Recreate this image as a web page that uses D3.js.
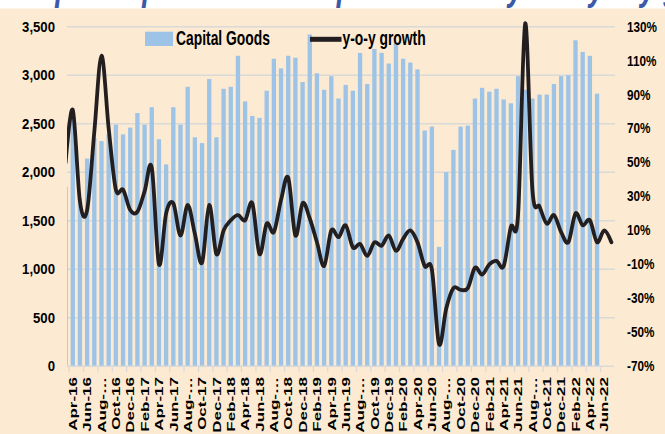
<!DOCTYPE html>
<html>
<head>
<meta charset="utf-8">
<script src="https://cdn.jsdelivr.net/npm/d3@7"></script>
<style>
  html, body { margin: 0; padding: 0; background: #fff; }
  svg { display: block; }
  text { font-family: "Liberation Sans", Arial, sans-serif; font-weight: bold; }
</style>
</head>
<body>
<script>
const width = 665;
const height = 434;

// months shown on the category axis (first and last are only partly in view)
const months = [
  "Mar-16","Apr-16","May-16","Jun-16","Jul-16","Aug-16","Sep-16","Oct-16","Nov-16","Dec-16",
  "Jan-17","Feb-17","Mar-17","Apr-17","May-17","Jun-17","Jul-17","Aug-17","Sep-17","Oct-17","Nov-17","Dec-17",
  "Jan-18","Feb-18","Mar-18","Apr-18","May-18","Jun-18","Jul-18","Aug-18","Sep-18","Oct-18","Nov-18","Dec-18",
  "Jan-19","Feb-19","Mar-19","Apr-19","May-19","Jun-19","Jul-19","Aug-19","Sep-19","Oct-19","Nov-19","Dec-19",
  "Jan-20","Feb-20","Mar-20","Apr-20","May-20","Jun-20","Jul-20","Aug-20","Sep-20","Oct-20","Nov-20","Dec-20",
  "Jan-21","Feb-21","Mar-21","Apr-21","May-21","Jun-21","Jul-21","Aug-21","Sep-21","Oct-21","Nov-21","Dec-21",
  "Jan-22","Feb-22","Mar-22","Apr-22","May-22","Jun-22","Jul-22"
];

// Capital Goods (left axis)
const capitalGoods = [
  1850, 2600, 1730, 2140, 2350, 2320, 2390, 2490, 2390, 2460,
  2610, 2490, 2670, 2340, 2080, 2670, 2490, 2880, 2360, 2300, 2960, 2360,
  2860, 2880, 3200, 2730, 2580, 2560, 2840, 3170, 3070, 3200, 3180, 2930,
  3420, 3020, 2850, 2990, 2760, 2900, 2840, 3230, 2910, 3270, 3230, 3120,
  3340, 3170, 3130, 3060, 2430, 2470, 1230, 2000, 2230, 2470, 2480, 2760,
  2870, 2830, 2860, 2750, 2710, 2990, 2850, 2760, 2800, 2800, 2910, 2990,
  3000, 3360, 3240, 3200, 2810, null, null
];

// y-o-y growth in % (right axis)
const yoyGrowth = [
  50, 81, 27, 22, 68, 113, 70, 34, 34, 22,
  21, 33, 47, -10, 20, 26, 7, 25, 8, -9, 25, -4,
  10, 16, 19, 16, 26, -4, 14, 9, 28, 41, 7, 26,
  17, 3, -11, 10, 6, 13, 0, 2, -5, 3, 1, 7,
  -2, 5, 10, 3, -11, -13, -57, -36, -24, -25, -24, -12,
  -16, -10, -8, -11, 12, 19, 132, 34, 24, 14, 19, 9,
  3, 20, 13, 16, 3, 10, 3
];

const leftTicks = [0, 500, 1000, 1500, 2000, 2500, 3000, 3500];
const rightTicks = [-70, -50, -30, -10, 10, 30, 50, 70, 90, 110, 130];

const svg = d3.select("body").append("svg")
  .attr("width", width)
  .attr("height", height);

// title line above the frame, only its lowest strokes are in view
svg.append("text")
  .attr("x", 10).attr("y", 0)
  .attr("fill", "#3d5aa8")
  .attr("font-size", 40)
  .attr("font-style", "italic")
  .attr("transform", "scale(0.7,1)")
  .text("Graph: Capital Goods imports monthly and y-o-y growth");

// page background
svg.append("rect")
  .attr("x", 0).attr("y", 8.5)
  .attr("width", width).attr("height", height - 8.5)
  .attr("fill", "#fcead2");

const x = d3.scaleBand()
  .domain(months)
  .range([62, 615])
  .paddingInner(0.4)
  .paddingOuter(0.2);

const yL = d3.scaleLinear().domain([0, 3500]).range([366.2, 26.7]);
const yR = d3.scaleLinear().domain([-70, 130]).range([366.2, 26.7]);

const cx = m => x(m) + x.bandwidth() / 2;

// gridlines
svg.append("g")
  .selectAll("line")
  .data(leftTicks.slice(1))
  .join("line")
    .attr("x1", 67).attr("x2", 615)
    .attr("y1", d => yL(d)).attr("y2", d => yL(d))
    .attr("stroke", "#d9d9d9")
    .attr("stroke-width", 1.5);

// clip on the left like the original plot
svg.append("clipPath").attr("id", "plot")
  .append("rect").attr("x", 67).attr("y", 0).attr("width", 560).attr("height", 367);

const plot = svg.append("g").attr("clip-path", "url(#plot)");

// bars
plot.selectAll(".bar")
  .data(months.map((m, i) => ({ m, v: capitalGoods[i] })).filter(d => d.v != null))
  .join("rect")
    .attr("class", "bar")
    .attr("x", d => x(d.m))
    .attr("width", x.bandwidth())
    .attr("y", d => yL(d.v))
    .attr("height", d => yL(0) - yL(d.v))
    .attr("fill", "#9dc3e6");

// growth line
const line = d3.line()
  .x((d, i) => cx(months[i]))
  .y(d => yR(d))
  .curve(d3.curveCardinal.tension(0));

plot.append("path")
  .datum(yoyGrowth)
  .attr("d", line)
  .attr("fill", "none")
  .attr("stroke", "#231f20")
  .attr("stroke-width", 3.8)
  .attr("stroke-linejoin", "round")
  .attr("stroke-linecap", "round");

// category axis
svg.append("line")
  .attr("x1", 67).attr("x2", 614)
  .attr("y1", yL(0)).attr("y2", yL(0))
  .attr("stroke", "#d9d9d9").attr("stroke-width", 1.5);

const labelled = months.filter((m, i) => i % 2 === 1);

svg.append("g")
  .selectAll("line")
  .data(labelled)
  .join("line")
    .attr("x1", d => cx(d) - x.step() / 2)
    .attr("x2", d => cx(d) - x.step() / 2)
    .attr("y1", yL(0)).attr("y2", yL(0) + 6)
    .attr("stroke", "#d9d9d9").attr("stroke-width", 1.2);

svg.append("g")
  .selectAll("text")
  .data(labelled)
  .join("text")
    .attr("transform", d => `translate(${cx(d) + 0.5},377) scale(0.62,1) rotate(-90)`)
    .attr("text-anchor", "end")
    .attr("dy", "0.35em")
    .attr("font-size", 17)
    .attr("fill", "#000")
    .text(d => d.startsWith("Aug") ? "Aug-\u2026" : d);

// left axis labels
svg.append("g")
  .selectAll("text")
  .data(leftTicks)
  .join("text")
    .attr("transform", d => `translate(55,${yL(d)}) scale(0.94,1)`)
    .attr("text-anchor", "end")
    .attr("dy", "0.35em")
    .attr("font-size", 14)
    .text(d => d3.format(",")(d));

// right axis labels
svg.append("g")
  .selectAll("text")
  .data(rightTicks)
  .join("text")
    .attr("transform", d => `translate(627,${yR(d)}) scale(0.84,1)`)
    .attr("dy", "0.35em")
    .attr("font-size", 14)
    .text(d => d + "%");

// legend
const legend = svg.append("g");
legend.append("rect")
  .attr("x", 145).attr("y", 31.7)
  .attr("width", 28).attr("height", 14.3)
  .attr("fill", "#9dc3e6");
legend.append("text")
  .attr("transform", "translate(176,45) scale(0.66,1)")
  .attr("font-size", 21)
  .text("Capital Goods");
legend.append("line")
  .attr("x1", 310).attr("x2", 341.5)
  .attr("y1", 39.3).attr("y2", 39.3)
  .attr("stroke", "#231f20").attr("stroke-width", 5);
legend.append("text")
  .attr("transform", "translate(342.5,45) scale(0.66,1)")
  .attr("font-size", 21)
  .text("y-o-y growth");
</script>
</body>
</html>
